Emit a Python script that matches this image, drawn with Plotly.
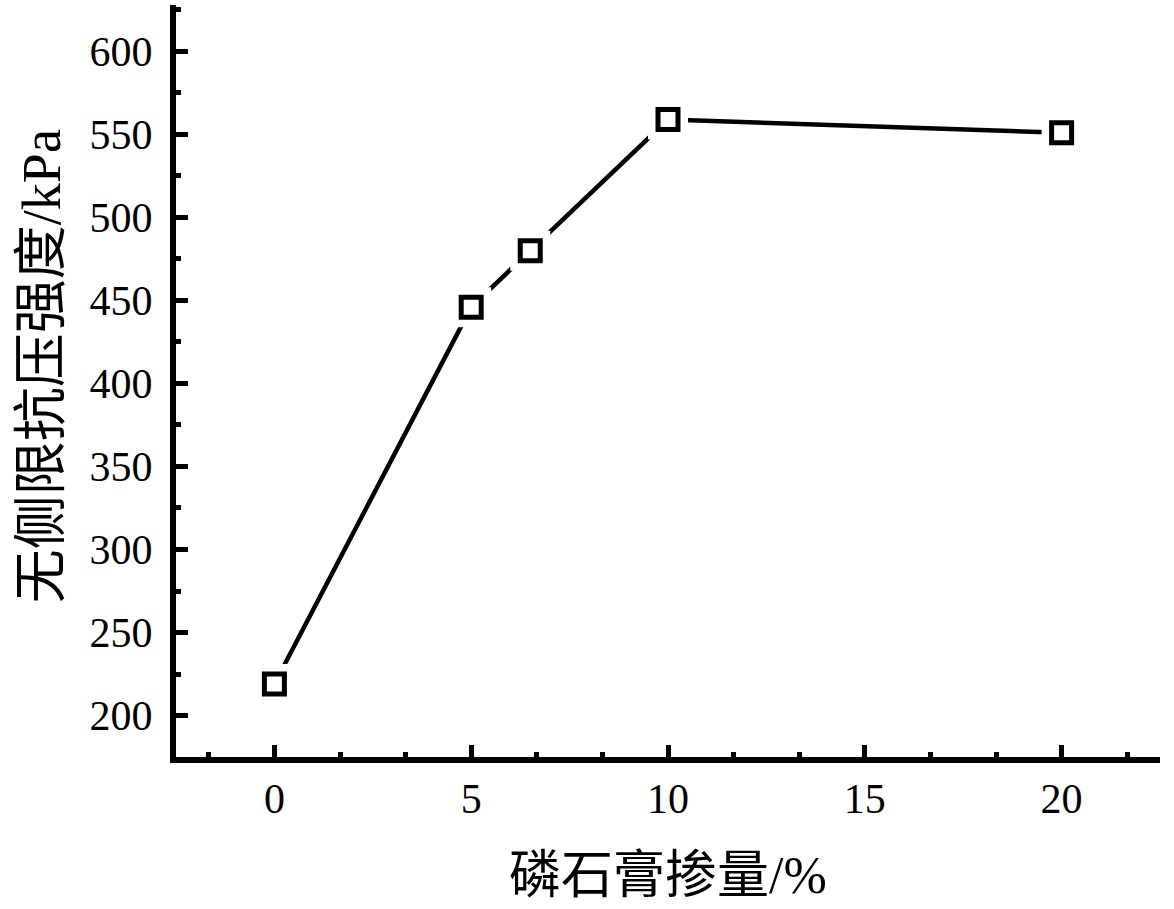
import plotly.graph_objects as go

content = [0, 5, 6.5, 10, 20]
strength = [219, 446, 480, 559, 551]
x_title = "磷石膏掺量/%"
y_title = "无侧限抗压强度/kPa"

font_family = "Liberation Serif, Times New Roman, Noto Sans CJK SC, serif"

fig = go.Figure()
fig.add_trace(go.Scatter(x=content, y=strength, mode="lines",
                         line=dict(color="black", width=4.5), showlegend=False))
fig.add_trace(go.Scatter(x=content, y=strength, mode="markers",
                         marker=dict(symbol="square", size=40, color="white",
                                     line=dict(width=0)), showlegend=False))
fig.add_trace(go.Scatter(x=content, y=strength, mode="markers",
                         marker=dict(symbol="square-open", size=20, color="black",
                                     line=dict(width=5, color="black")), showlegend=False))

fig.update_layout(
    width=1174, height=909,
    margin=dict(l=176, r=14, t=5, b=152),
    paper_bgcolor="white", plot_bgcolor="white",
    font=dict(family=font_family, color="black", size=42),
    xaxis=dict(range=[-2.5, 22.5], dtick=5, tick0=0, ticks="inside", ticklen=12,
               tickwidth=5, tickcolor="black", showline=True, linewidth=6,
               linecolor="black", showgrid=False, zeroline=False,
               automargin=False,
               tickfont=dict(size=42, family=font_family),
               ticklabelstandoff=0,
               minor=dict(dtick=5/3, tick0=0, ticks="inside", ticklen=5,
                          tickwidth=5, tickcolor="black", showgrid=False),
               title=dict(text=x_title, font=dict(size=52, family=font_family), standoff=37)),
    yaxis=dict(range=[175, 628], dtick=50, tick0=0, ticks="inside", ticklen=12,
               tickwidth=5, tickcolor="black", showline=True, linewidth=6,
               linecolor="black", showgrid=False, zeroline=False,
               automargin=False,
               tickfont=dict(size=42, family=font_family),
               ticklabelstandoff=9,
               minor=dict(dtick=25, tick0=0, ticks="inside", ticklen=5,
                          tickwidth=5, tickcolor="black", showgrid=False)),
    annotations=[dict(text=y_title, textangle=-90, showarrow=False,
                      xref="paper", yref="paper", x=-0.136, y=0.52,
                      xanchor="center", yanchor="middle",
                      font=dict(size=54, family=font_family))],
)

fig.write_html("out.html", config={"displayModeBar": False},
               post_script="document.body.style.margin='0px';")
